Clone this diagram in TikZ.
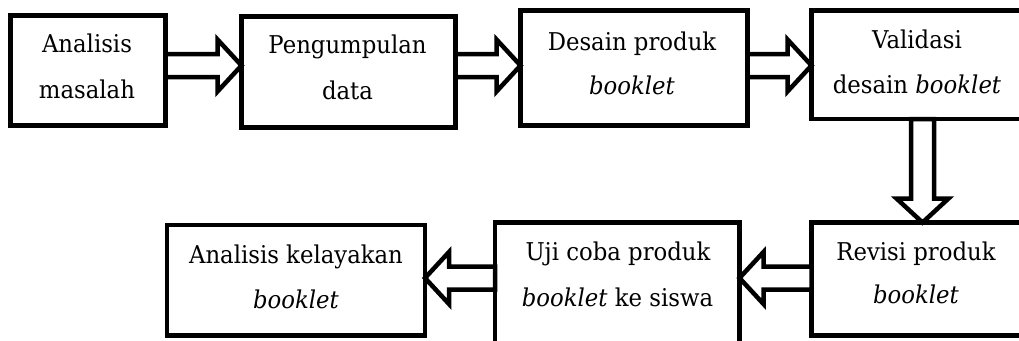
\documentclass[tikz,border=0pt]{standalone}
\usepackage{fontspec}
\setmainfont{DejaVu Serif}[FakeStretch=0.93]
\usetikzlibrary{calc}
\tikzset{
  box/.style={draw=black, line width=4.5pt, rectangle, inner sep=0pt, outer sep=0pt},
  lbl/.style={anchor=base, inner sep=0pt, outer sep=0pt, font=\fontsize{24.5}{45}\selectfont},
  barrow/.style={draw=black, fill=white, line width=4.5pt, line join=miter, miter limit=10},
}
\newcommand\blockarrow[2]{%
  \path ($(#2)!24pt!(#1)$) coordinate (hb);
  \draw[barrow] ($(#1)!11.5pt!-90:(#2)$) -- ($(hb)!11.5pt!-90:(#2)$) -- ($(hb)!26pt!-90:(#2)$) -- (#2)
    -- ($(hb)!26pt!90:(#2)$) -- ($(hb)!11.5pt!90:(#2)$) -- ($(#1)!11.5pt!90:(#2)$) -- cycle;
}
\begin{document}
\begin{tikzpicture}[x=1pt,y=-1pt]
  \useasboundingbox (0,0) rectangle (1019,340);
  \clip (0,0) rectangle (1019,340);
  % boxes
  \node[box, minimum width=155pt, minimum height=110pt] (b1) at (88,70.5) {};
  \node[box, minimum width=214pt, minimum height=111pt] (b2) at (348.5,72) {};
  \node[box, minimum width=227pt, minimum height=115pt] (b3) at (634,68) {};
  \node[box, minimum width=210.5pt, minimum height=108.5pt] (b4) at (916.75,64.75) {};
  \node[box, minimum width=210.5pt, minimum height=113pt] (b5) at (916.75,279) {};
  \node[box, minimum width=244.5pt, minimum height=127.5pt] (b6) at (617.25,286.25) {};
  \node[box, minimum width=258pt, minimum height=110.5pt] (b7) at (296,280.25) {};
  % texts
  \node[lbl] (t1a) at (87,52) {Analisis};
  \node[lbl] (t1b) at (87,98) {masalah};
  \node[lbl] (t2a) at (347.5,53) {Pengumpulan};
  \node[lbl] (t2b) at (347.5,99) {data};
  \node[lbl] (t3a) at (632,50) {Desain produk};
  \node[lbl] (t3b) at (632,94) {\textit{booklet}};
  \node[lbl] (t4a) at (917,48) {Validasi};
  \node[lbl] (t4b) at (917,93) {desain \textit{booklet}};
  \node[lbl] (t5a) at (916,260) {Revisi produk};
  \node[lbl] (t5b) at (916,303) {\textit{booklet}};
  \node[lbl] (t6a) at (618,260) {Uji coba produk};
  \node[lbl] (t6b) at (617.5,306) {\textit{booklet} ke siswa};
  \node[lbl] (t7a) at (296,263) {Analisis kelayakan};
  \node[lbl] (t7b) at (296,308) {\textit{booklet}};
  % arrow axes
  \coordinate (rowtop) at (0,65.5);
  \coordinate (rowbot) at (0,278);
  \coordinate (colv) at (922.5,0);
  \coordinate (a1s) at (b1.east |- rowtop);
  \coordinate (a1t) at (b2.west |- rowtop);
  \coordinate (a2s) at (b2.east |- rowtop);
  \coordinate (a2t) at (b3.west |- rowtop);
  \coordinate (a3s) at (b3.east |- rowtop);
  \coordinate (a3t) at (b4.west |- rowtop);
  \coordinate (a4s) at (b4.south -| colv);
  \coordinate (a4t) at (b5.north -| colv);
  \coordinate (a5s) at (b5.west |- rowbot);
  \coordinate (a5t) at (b6.east |- rowbot);
  \coordinate (a6s) at (b6.west |- rowbot);
  \coordinate (a6t) at (b7.east |- rowbot);
  \blockarrow{a1s}{a1t}
  \blockarrow{a2s}{a2t}
  \blockarrow{a3s}{a3t}
  \blockarrow{a4s}{a4t}
  \blockarrow{a5s}{a5t}
  \blockarrow{a6s}{a6t}
\end{tikzpicture}
\end{document}
